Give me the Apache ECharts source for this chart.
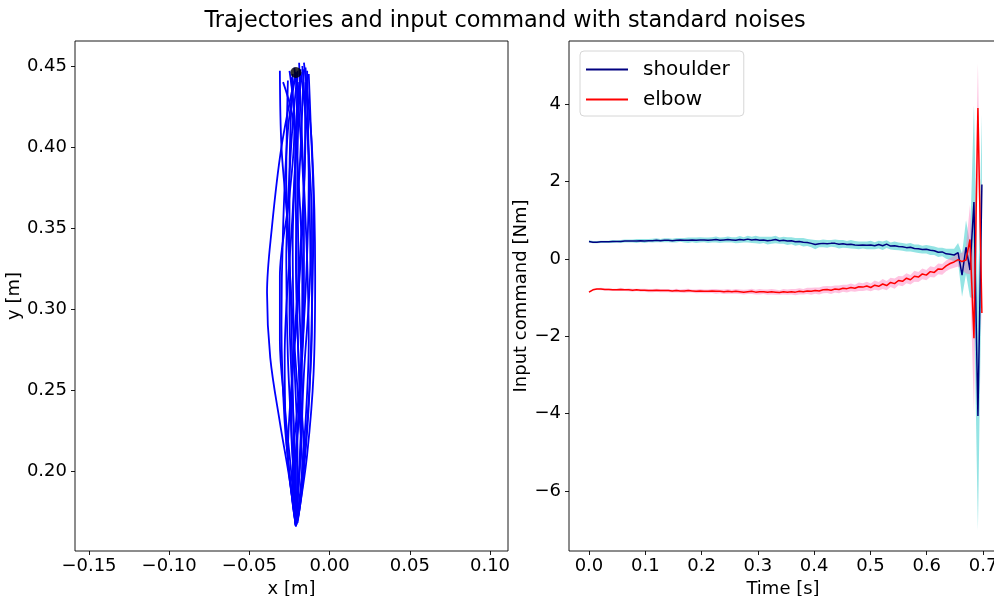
<!DOCTYPE html>
<html>
<head>
<meta charset="utf-8">
<script src="https://cdn.jsdelivr.net/npm/echarts@6/dist/echarts.min.js"></script>
<style>
  html, body { margin: 0; padding: 0; background: #fff; }
  #container { width: 994px; height: 596px; }
</style>
</head>
<body>
<div id="container"></div>
<script>
// ---- data ----
var startPoint = [-0.021, 0.446]

var trajectories = [
  [[-0.021, 0.446], [-0.030, 0.40], [-0.036, 0.35], [-0.039, 0.31], [-0.037, 0.27], [-0.031, 0.23], [-0.025, 0.195], [-0.021, 0.166]],
  [[-0.031, 0.447], [-0.030, 0.40], [-0.026, 0.35], [-0.024, 0.30], [-0.023, 0.25], [-0.022, 0.20], [-0.021, 0.166]],
  [[-0.029, 0.440], [-0.022, 0.41], [-0.025, 0.37], [-0.031, 0.32], [-0.031, 0.28], [-0.028, 0.24], [-0.024, 0.20], [-0.021, 0.166]],
  [[-0.019, 0.452], [-0.017, 0.40], [-0.014, 0.33], [-0.013, 0.28], [-0.015, 0.23], [-0.018, 0.19], [-0.021, 0.166]],
  [[-0.016, 0.452], [-0.011, 0.40], [-0.009, 0.32], [-0.010, 0.26], [-0.014, 0.21], [-0.019, 0.175], [-0.021, 0.166]],
  [[-0.023, 0.445], [-0.025, 0.38], [-0.025, 0.30], [-0.022, 0.22], [-0.021, 0.166]],
  [[-0.018, 0.448], [-0.020, 0.39], [-0.019, 0.31], [-0.017, 0.24], [-0.020, 0.18], [-0.021, 0.166]],
  [[-0.014, 0.447], [-0.013, 0.39], [-0.012, 0.33], [-0.016, 0.26], [-0.019, 0.20], [-0.021, 0.17]],
  [[-0.020, 0.446], [-0.024, 0.40], [-0.027, 0.33], [-0.026, 0.27], [-0.023, 0.21], [-0.021, 0.168]],
  [[-0.017, 0.450], [-0.015, 0.41], [-0.018, 0.34], [-0.022, 0.28], [-0.024, 0.23], [-0.022, 0.19], [-0.021, 0.166]],
  [[-0.022, 0.449], [-0.019, 0.42], [-0.016, 0.36], [-0.016, 0.30], [-0.019, 0.24], [-0.022, 0.19], [-0.021, 0.166]],
  [[-0.013, 0.445], [-0.012, 0.42], [-0.010, 0.36], [-0.011, 0.30], [-0.013, 0.24], [-0.017, 0.19], [-0.020, 0.168]],
  [[-0.025, 0.447], [-0.022, 0.42], [-0.021, 0.36], [-0.020, 0.29], [-0.018, 0.22], [-0.020, 0.18], [-0.021, 0.166]],
  [[-0.019, 0.440], [-0.023, 0.36], [-0.028, 0.27], [-0.027, 0.22], [-0.023, 0.18], [-0.021, 0.166]],
  [[-0.015, 0.440], [-0.016, 0.37], [-0.020, 0.30], [-0.024, 0.25], [-0.026, 0.21], [-0.023, 0.18], [-0.021, 0.166]],
  [[-0.021, 0.446], [-0.026, 0.41], [-0.029, 0.35], [-0.030, 0.29], [-0.028, 0.23], [-0.024, 0.19], [-0.021, 0.166]],
  [[-0.018, 0.446], [-0.014, 0.41], [-0.011, 0.35], [-0.011, 0.29], [-0.014, 0.23], [-0.018, 0.185], [-0.021, 0.166]],
  [[-0.020, 0.447], [-0.021, 0.40], [-0.023, 0.34], [-0.022, 0.27], [-0.020, 0.21], [-0.021, 0.166]],
  [[-0.016, 0.448], [-0.018, 0.40], [-0.021, 0.33], [-0.019, 0.26], [-0.016, 0.21], [-0.019, 0.175], [-0.021, 0.166]],
  [[-0.024, 0.443], [-0.020, 0.39], [-0.017, 0.32], [-0.018, 0.25], [-0.021, 0.20], [-0.021, 0.166]],
  [[-0.015, 0.449], [-0.013, 0.38], [-0.015, 0.31], [-0.019, 0.25], [-0.023, 0.20], [-0.021, 0.166]],
  [[-0.026, 0.441], [-0.027, 0.38], [-0.024, 0.31], [-0.020, 0.25], [-0.017, 0.20], [-0.020, 0.172]]
]

var dt = 0.00705

var shoulder = [
  0.45, 0.43, 0.43, 0.44, 0.44, 0.44, 0.45, 0.45, 0.45, 0.46,
  0.46, 0.46, 0.46, 0.47, 0.46, 0.47, 0.47, 0.48, 0.47, 0.48,
  0.48, 0.47, 0.48, 0.49, 0.48, 0.48, 0.49, 0.48, 0.49, 0.49,
  0.48, 0.49, 0.50, 0.48, 0.49, 0.50, 0.49, 0.48, 0.50, 0.49,
  0.51, 0.49, 0.50, 0.48, 0.49, 0.47, 0.48, 0.50, 0.47, 0.48,
  0.46, 0.47, 0.44, 0.45, 0.43, 0.42, 0.40, 0.37, 0.39, 0.40,
  0.39, 0.40, 0.40, 0.38, 0.39, 0.37, 0.38, 0.36, 0.35, 0.36,
  0.35, 0.36, 0.34, 0.37, 0.34, 0.38, 0.33, 0.34, 0.32, 0.31,
  0.29, 0.30, 0.27, 0.26, 0.24, 0.25, 0.22, 0.21, 0.17, 0.18,
  0.13, 0.12, 0.10, 0.16, -0.42, 0.30, -0.29, 1.47, -4.06, 1.92
]

var shoulderStd = [
  0.03, 0.03, 0.03, 0.03, 0.03, 0.03, 0.04, 0.03, 0.04, 0.04,
  0.04, 0.04, 0.05, 0.04, 0.05, 0.04, 0.05, 0.05, 0.04, 0.05,
  0.05, 0.05, 0.06, 0.05, 0.06, 0.07, 0.06, 0.07, 0.07, 0.06,
  0.07, 0.07, 0.08, 0.07, 0.07, 0.08, 0.07, 0.08, 0.09, 0.07,
  0.09, 0.08, 0.10, 0.09, 0.08, 0.10, 0.09, 0.10, 0.08, 0.09,
  0.10, 0.09, 0.10, 0.09, 0.11, 0.09, 0.10, 0.12, 0.09, 0.10,
  0.10, 0.09, 0.10, 0.11, 0.10, 0.09, 0.11, 0.10, 0.10, 0.09,
  0.10, 0.11, 0.09, 0.10, 0.11, 0.10, 0.09, 0.11, 0.10, 0.10,
  0.10, 0.11, 0.10, 0.11, 0.10, 0.11, 0.12, 0.11, 0.12, 0.11,
  0.13, 0.14, 0.16, 0.25, 0.56, 0.70, 0.70, 2.50, 2.95, 1.82
]

var elbow = [
  -0.86, -0.80, -0.78, -0.78, -0.79, -0.79, -0.80, -0.80, -0.79, -0.80,
  -0.80, -0.81, -0.80, -0.81, -0.81, -0.82, -0.82, -0.81, -0.82, -0.82,
  -0.82, -0.83, -0.82, -0.83, -0.83, -0.82, -0.83, -0.84, -0.83, -0.84,
  -0.84, -0.83, -0.84, -0.84, -0.85, -0.84, -0.85, -0.84, -0.85, -0.86,
  -0.85, -0.84, -0.86, -0.85, -0.85, -0.86, -0.85, -0.86, -0.87, -0.85,
  -0.86, -0.85, -0.86, -0.84, -0.85, -0.83, -0.84, -0.82, -0.83, -0.80,
  -0.79, -0.81, -0.78, -0.79, -0.76, -0.77, -0.74, -0.76, -0.72, -0.73,
  -0.70, -0.74, -0.68, -0.71, -0.65, -0.69, -0.61, -0.64, -0.56, -0.58,
  -0.50, -0.54, -0.45, -0.47, -0.39, -0.42, -0.33, -0.35, -0.26, -0.27,
  -0.18, -0.12, -0.08, -0.02, -0.07, -0.03, 0.50, -2.05, 3.90, -1.40
]

var elbowStd = [
  0.02, 0.02, 0.02, 0.03, 0.03, 0.03, 0.03, 0.03, 0.04, 0.03,
  0.04, 0.04, 0.03, 0.04, 0.04, 0.04, 0.04, 0.04, 0.04, 0.04,
  0.04, 0.04, 0.05, 0.04, 0.05, 0.05, 0.04, 0.05, 0.05, 0.05,
  0.05, 0.05, 0.06, 0.05, 0.06, 0.06, 0.05, 0.06, 0.06, 0.06,
  0.06, 0.07, 0.06, 0.07, 0.06, 0.07, 0.07, 0.07, 0.06, 0.07,
  0.07, 0.07, 0.08, 0.08, 0.07, 0.08, 0.09, 0.08, 0.09, 0.09,
  0.09, 0.10, 0.09, 0.10, 0.09, 0.10, 0.10, 0.09, 0.11, 0.10,
  0.11, 0.10, 0.12, 0.11, 0.13, 0.12, 0.12, 0.13, 0.12, 0.13,
  0.13, 0.12, 0.14, 0.13, 0.14, 0.13, 0.14, 0.13, 0.14, 0.14,
  0.14, 0.14, 0.15, 0.18, 0.22, 0.35, 0.90, 1.90, 1.15, 0.50
]

var xTicksLeft = [-0.15, -0.10, -0.05, 0.00, 0.05, 0.10]
var yTicksLeft = [0.20, 0.25, 0.30, 0.35, 0.40, 0.45]
var xTicksRight = [0.0, 0.1, 0.2, 0.3, 0.4, 0.5, 0.6, 0.7]
var yTicksRight = [-6, -4, -2, 0, 2, 4]

// ---- helpers ----
var FONT = 'DejaVu Sans'
var time = shoulder.map(function (v, i) { return i * dt })

function pairs(values) {
  return values.map(function (v, i) { return [time[i], v] })
}
function fmt(d) {
  return function (v) { return v.toFixed(d).replace('-', '\u2212') }
}

// mean +- std band, drawn as one polygon through the axis scales
function bandSeries(mean, std, color) {
  var data = mean.map(function (v, i) { return [time[i], v - std[i], v + std[i]] })
  return {
    type: 'custom',
    xAxisIndex: 1,
    yAxisIndex: 1,
    silent: true,
    z: 1,
    encode: { x: 0, y: [1, 2] },
    data: data,
    renderItem: function (params, api) {
      if (params.dataIndex !== 0) return
      var top = data.map(function (d) { return api.coord([d[0], d[2]]) })
      var bottom = data.map(function (d) { return api.coord([d[0], d[1]]) }).reverse()
      return {
        type: 'polygon',
        shape: { points: top.concat(bottom) },
        style: { fill: color }
      }
    }
  }
}

function valueAxis(grid, min, max, ticks, digits, name, gap, labelMargin) {
  return {
    type: 'value',
    gridIndex: grid,
    min: min,
    max: max,
    name: name,
    nameLocation: 'middle',
    nameGap: gap,
    nameTextStyle: { fontFamily: FONT, fontSize: 18, color: '#000' },
    axisLine: { show: false, onZero: false },
    axisTick: {
      show: true,
      inside: false,
      length: 4,
      customValues: ticks,
      lineStyle: { color: '#000', width: 0.9 }
    },
    axisLabel: {
      customValues: ticks,
      formatter: fmt(digits),
      fontFamily: FONT,
      fontSize: 18,
      color: '#000',
      margin: labelMargin
    },
    splitLine: { show: false }
  }
}

var dom = document.getElementById('container')
var myChart = echarts.init(dom)

var series = []

trajectories.forEach(function (path, k) {
  series.push({
    type: 'line',
    name: 'traj' + k,
    xAxisIndex: 0,
    yAxisIndex: 0,
    data: path,
    smooth: 0.35,
    symbol: 'none',
    lineStyle: { color: '#0000ff', width: 1.8 },
    silent: true,
    z: 2
  })
})

series.push({
  type: 'scatter',
  xAxisIndex: 0,
  yAxisIndex: 0,
  data: [startPoint],
  symbolSize: 11,
  itemStyle: { color: '#000' },
  z: 3
})

series.push(
  bandSeries(shoulder, shoulderStd, 'rgba(0,191,191,0.42)'),
  bandSeries(elbow, elbowStd, 'rgba(255,105,180,0.4)'),
  {
    type: 'line', name: 'shoulder', xAxisIndex: 1, yAxisIndex: 1,
    data: pairs(shoulder), symbol: 'none',
    lineStyle: { color: '#000080', width: 1.5 }, itemStyle: { color: '#000080' }, z: 3
  }, {
    type: 'line', name: 'elbow', xAxisIndex: 1, yAxisIndex: 1,
    data: pairs(elbow), symbol: 'none',
    lineStyle: { color: '#ff0000', width: 1.5 }, itemStyle: { color: '#ff0000' }, z: 3
  }
)

option = {
  backgroundColor: '#fff',
  animation: false,
  title: {
    text: 'Trajectories and input command with standard noises',
    left: 500,
    top: 5,
    textAlign: 'center',
    textStyle: { fontFamily: FONT, fontSize: 22.4, fontWeight: 'normal', color: '#000' }
  },
  legend: {
    data: ['shoulder', 'elbow'],
    orient: 'vertical',
    left: 580,
    top: 51,
    padding: [8, 14, 6, 6],
    itemWidth: 42,
    itemHeight: 2,
    itemGap: 9,
    icon: 'rect',
    borderColor: '#d6d6d6',
    borderWidth: 1,
    borderRadius: 4,
    backgroundColor: 'rgba(255,255,255,0.8)',
    textStyle: { fontFamily: FONT, fontSize: 20, color: '#000', padding: [0, 0, 0, 10], lineHeight: 21 }
  },
  grid: [
    { left: 75, top: 41, width: 433, height: 510, outerBoundsMode: 'none', show: true, borderColor: '#000', borderWidth: 0.9, backgroundColor: 'transparent' },
    { left: 569, top: 41, width: 428, height: 510, outerBoundsMode: 'none', show: true, borderColor: '#000', borderWidth: 0.9, backgroundColor: 'transparent' }
  ],
  xAxis: [
    valueAxis(0, -0.1587, 0.1112, xTicksLeft, 2, 'x [m]', 24, 6),
    valueAxis(1, -0.0355, 0.7248, xTicksRight, 1, 'Time [s]', 24, 6)
  ],
  yAxis: [
    valueAxis(0, 0.1506, 0.4654, yTicksLeft, 2, 'y [m]', 52, 8),
    valueAxis(1, -7.55, 5.63, yTicksRight, 0, 'Input command [Nm]', 36, 8)
  ],
  series: series
}

myChart.setOption(option)
</script>
</body>
</html>
